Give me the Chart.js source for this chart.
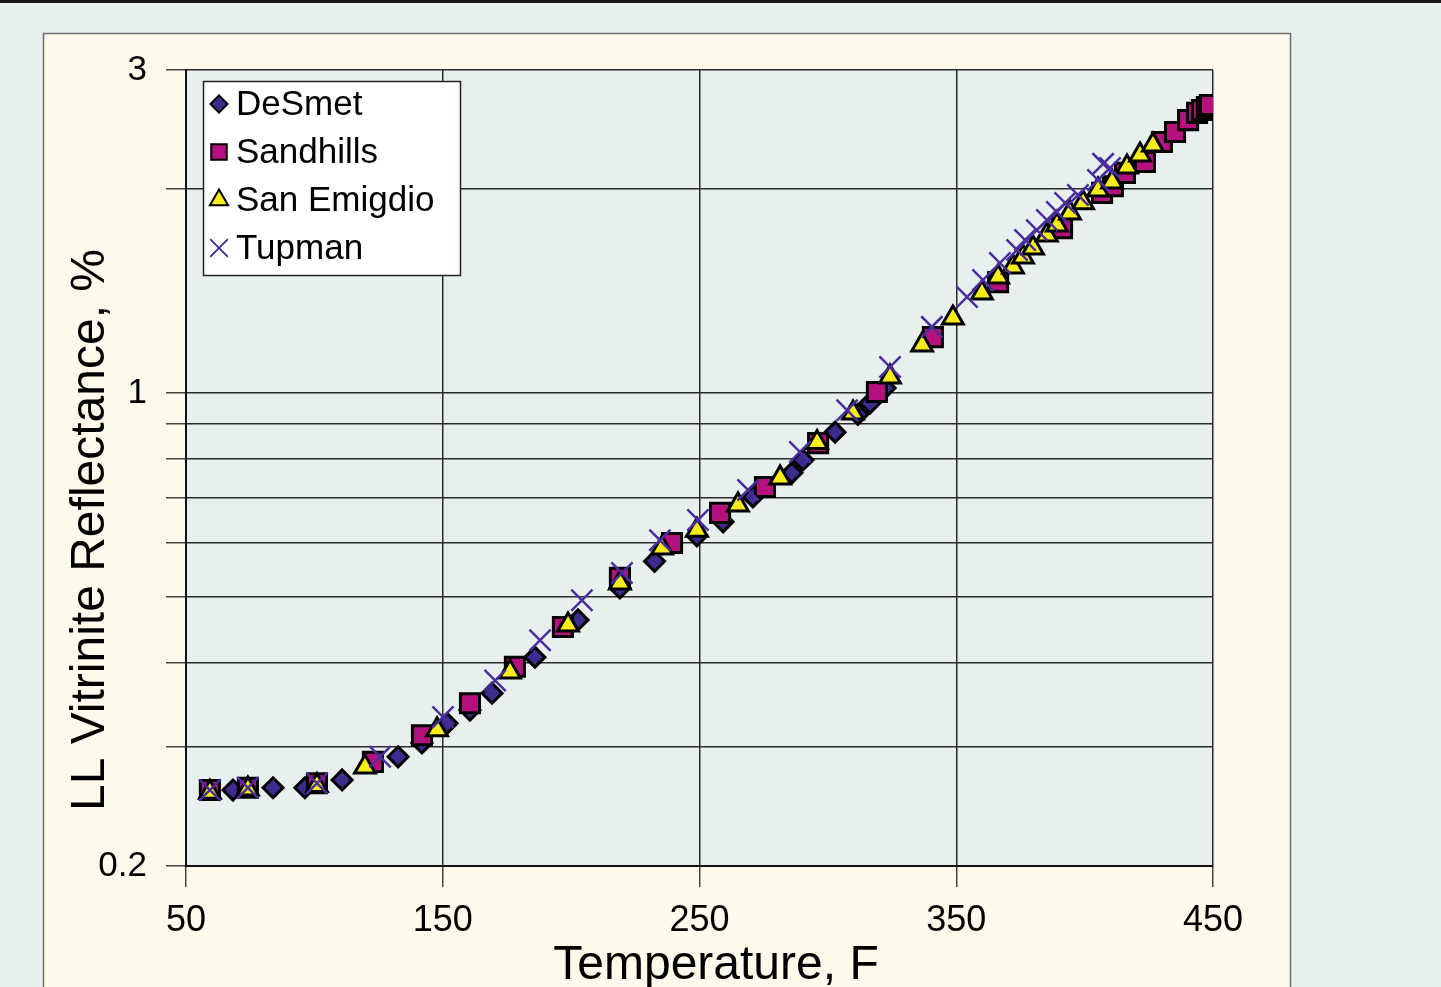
<!DOCTYPE html>
<html>
<head>
<meta charset="utf-8">
<title>LL Vitrinite Reflectance vs Temperature</title>
<script src="https://cdn.jsdelivr.net/npm/chart.js@4.4.1/dist/chart.umd.min.js"></script>
<style>
    html, body { margin: 0; padding: 0; background: #e8f0ef; overflow: hidden; }
    canvas { display: block; }
</style>
</head>
<body>
<canvas id="roChart" width="1441" height="987"></canvas>
<script>
// Values (temperature F, reflectance %)
const deSmetTemp = [68.3, 83.9, 96.3, 110.8, 132.6, 141.9, 151.7, 160.6, 169.2, 185.9, 202.7, 219, 232.5, 249, 259.2, 270.8, 286, 290.3, 302.8, 311.7, 316.4, 322.3];
const deSmetRo = [0.259, 0.261, 0.261, 0.268, 0.290, 0.304, 0.325, 0.340, 0.360, 0.407, 0.462, 0.515, 0.564, 0.615, 0.645, 0.702, 0.762, 0.796, 0.875, 0.930, 0.966, 1.017];

const sandhillsTemp = [59.3, 74.1, 101, 122.8, 141.9, 160.6, 178.1, 196.8, 219, 239.3, 258, 275.5, 296.2, 319.1, 340.9, 366.3, 391.2, 406.8, 411, 415.7, 423.5, 430.1, 435.2, 440.3, 443.8, 445.7, 447.6, 448.8];
const sandhillsRo = [0.259, 0.261, 0.265, 0.285, 0.312, 0.348, 0.394, 0.451, 0.533, 0.600, 0.665, 0.726, 0.843, 1.003, 1.209, 1.458, 1.752, 1.975, 2.02, 2.114, 2.194, 2.348, 2.43, 2.53, 2.593, 2.618, 2.645, 2.663];

const sanEmigdioTemp = [59.3, 74.1, 101, 119.7, 147.8, 176.2, 198.8, 219, 235.4, 249, 265, 281.4, 295.8, 309.8, 324.2, 336.7, 348.7, 360, 366.3, 372.1, 376, 379.9, 385.3, 389.2, 394.3, 399.4, 405.2, 410.7, 416.5, 421.6, 426.6];
const sanEmigdioRo = [0.257, 0.260, 0.263, 0.280, 0.318, 0.387, 0.454, 0.524, 0.590, 0.627, 0.683, 0.749, 0.845, 0.934, 1.056, 1.177, 1.290, 1.405, 1.483, 1.535, 1.588, 1.637, 1.711, 1.771, 1.845, 1.909, 1.995, 2.05, 2.157, 2.247, 2.324];

const tupmanTemp = [59.3, 74.1, 101, 125.6, 150.1, 170.4, 187.9, 204.2, 219.8, 234.6, 249.4, 268.9, 289.1, 307.5, 324.2, 340.5, 354.2, 360.4, 367, 373.7, 376.8, 381.4, 385.3, 389.2, 392.4, 397.4, 405.2, 407.2, 409.9];
const tupmanRo = [0.259, 0.261, 0.265, 0.290, 0.332, 0.376, 0.431, 0.494, 0.542, 0.606, 0.649, 0.719, 0.818, 0.943, 1.092, 1.252, 1.386, 1.468, 1.556, 1.626, 1.682, 1.740, 1.801, 1.851, 1.909, 1.961, 2.064, 2.18, 2.149];

const xTicks = [50, 150, 250, 350, 450];
const yGridValues = [0.2, 0.3, 0.4, 0.5, 0.6, 0.7, 0.8, 0.9, 1, 2, 3];
const yLabelValues = [0.2, 1, 3];

const FONT = '"Liberation Sans", Arial, Helvetica, sans-serif';

function toPoints(xs, ys) {
    return xs.map((x, i) => ({ x: x, y: ys[i] }));
}

// page background, cream panel and plot fill
const backdrop = {
    id: 'backdrop',
    beforeDraw(chart) {
        const ctx = chart.ctx;
        const area = chart.chartArea;
        ctx.save();
        ctx.fillStyle = '#e8f0ef';
        ctx.fillRect(0, 0, chart.width, chart.height);
        ctx.fillStyle = '#1a1a1a';
        ctx.fillRect(0, 0, chart.width, 3);
        ctx.fillStyle = '#fdfaec';
        ctx.fillRect(43, 33, 1248, chart.height);
        ctx.strokeStyle = '#6f6f6f';
        ctx.lineWidth = 1.5;
        ctx.strokeRect(43.5, 33.5, 1247, chart.height + 10);
        ctx.fillStyle = '#e8f0ef';
        ctx.fillRect(area.left, area.top, area.right - area.left, area.bottom - area.top);
        ctx.restore();
    }
};

// axis titles and the boxed legend
const overlay = {
    id: 'overlay',
    afterDraw(chart) {
        const ctx = chart.ctx;
        ctx.save();
        ctx.fillStyle = '#000';
        ctx.font = '48px ' + FONT;
        ctx.textAlign = 'center';
        ctx.textBaseline = 'alphabetic';
        ctx.fillText('Temperature, F', 716, 979);

        ctx.translate(104, 530);
        ctx.rotate(-Math.PI / 2);
        ctx.fillText('LL Vitrinite Reflectance, %', 0, 0);
        ctx.restore();

        // legend
        ctx.save();
        ctx.fillStyle = '#ffffff';
        ctx.fillRect(203, 81, 258, 195);
        ctx.strokeStyle = '#222';
        ctx.lineWidth = 1.5;
        ctx.strokeRect(203.5, 81.5, 257, 194);
        ctx.font = '35px ' + FONT;
        ctx.textAlign = 'left';
        ctx.textBaseline = 'middle';
        const sizes = [8.5, 11, 10.5, 12.5];
        chart.data.datasets.forEach((ds, i) => {
            const y = 104 + i * 48;
            ctx.fillStyle = ds.pointBackgroundColor;
            ctx.strokeStyle = ds.pointBorderColor;
            ctx.lineWidth = 2;
            Chart.helpers.drawPoint(ctx, {
                pointStyle: ds.pointStyle,
                radius: sizes[i],
                borderWidth: 2,
                rotation: 0
            }, 219, y);
            ctx.fillStyle = '#000';
            ctx.fillText(ds.label, 236, y + 1);
        });
        ctx.restore();
    }
};

const gridColor = '#2b2b2b';

new Chart(document.getElementById('roChart'), {
    type: 'scatter',
    data: {
        datasets: [
            {
                label: 'DeSmet',
                data: toPoints(deSmetTemp, deSmetRo),
                pointStyle: 'rectRot',
                pointRadius: 10,
                pointBackgroundColor: '#3d2b8e',
                pointBorderColor: '#000',
                pointBorderWidth: 3,
                order: 4
            },
            {
                label: 'Sandhills',
                data: toPoints(sandhillsTemp, sandhillsRo),
                pointStyle: 'rect',
                pointRadius: 13.5,
                pointBackgroundColor: '#b5117e',
                pointBorderColor: '#000',
                pointBorderWidth: 3,
                order: 3
            },
            {
                label: 'San Emigdio',
                data: toPoints(sanEmigdioTemp, sanEmigdioRo),
                pointStyle: 'triangle',
                pointRadius: 12,
                pointBackgroundColor: '#f5ec1a',
                pointBorderColor: '#000',
                pointBorderWidth: 3,
                order: 2
            },
            {
                label: 'Tupman',
                data: toPoints(tupmanTemp, tupmanRo),
                pointStyle: 'crossRot',
                pointRadius: 15,
                pointBackgroundColor: '#4a2f9c',
                pointBorderColor: '#4a2f9c',
                pointBorderWidth: 2.5,
                order: 1
            }
        ]
    },
    options: {
        responsive: false,
        animation: false,
        layout: {
            padding: { left: 46, right: 228, top: 70, bottom: 0 }
        },
        plugins: {
            legend: { display: false },
            tooltip: { enabled: false }
        },
        scales: {
            x: {
                type: 'linear',
                min: 50,
                max: 450,
                afterBuildTicks: (scale) => {
                    scale.ticks = xTicks.map(v => ({ value: v }));
                },
                afterFit: (scale) => { scale.height = 121; },
                grid: {
                    color: gridColor,
                    lineWidth: 1.5,
                    tickLength: 21,
                    tickColor: '#444'
                },
                border: { color: '#111', width: 2 },
                ticks: {
                    autoSkip: false,
                    maxRotation: 0,
                    padding: 12,
                    color: '#000',
                    font: { family: FONT, size: 36 }
                }
            },
            y: {
                type: 'logarithmic',
                min: 0.2,
                max: 3,
                afterBuildTicks: (scale) => {
                    scale.ticks = yGridValues.map(v => ({ value: v }));
                },
                afterFit: (scale) => { scale.width = 140; },
                grid: {
                    color: gridColor,
                    lineWidth: 1.5,
                    tickLength: 20,
                    tickColor: '#444'
                },
                border: { color: '#111', width: 2 },
                ticks: {
                    autoSkip: false,
                    padding: 19,
                    color: '#000',
                    font: { family: FONT, size: 35 },
                    callback: (value) => yLabelValues.includes(value) ? String(value) : ''
                }
            }
        }
    },
    plugins: [backdrop, overlay]
});
</script>
</body>
</html>
